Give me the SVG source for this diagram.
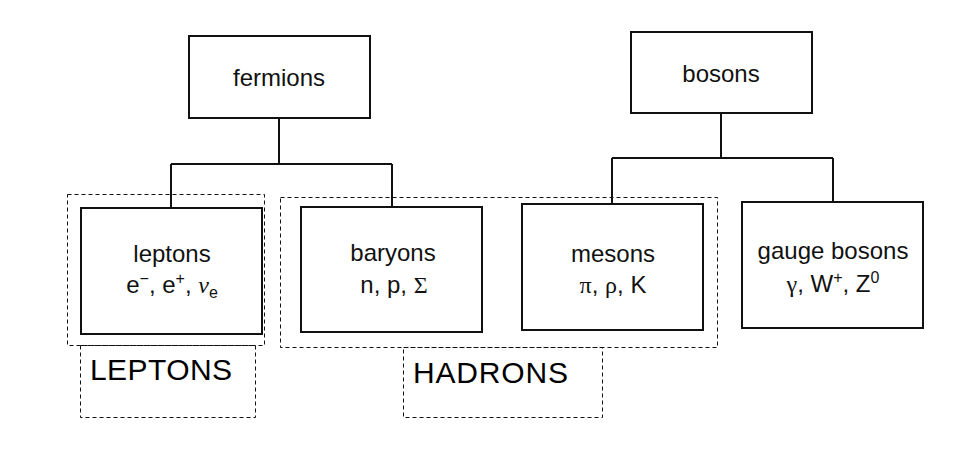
<svg xmlns="http://www.w3.org/2000/svg" width="953" height="473" viewBox="0 0 953 473">
<style>
.box{fill:#fff;stroke:#111;stroke-width:2}
.grp{fill:none;stroke:#111;stroke-width:1;stroke-dasharray:4 3}
.ln{fill:none;stroke:#111;stroke-width:2}
.t{font-family:"Liberation Sans",Arial,sans-serif;font-size:24px;fill:#111;text-anchor:middle}
.g{font-family:"Liberation Serif","Times New Roman",serif}
.s{font-size:16px}
.big{font-family:"Liberation Sans",Arial,sans-serif;font-size:30px;fill:#000}
</style>
<rect width="953" height="473" fill="#fff"/>
<g id="connectors">
<path class="ln" d="M279 118V164M171 164H392M171 164V208M392 164V207"/>
<path class="ln" d="M721 113V158M612 158H833M612 158V204M833 158V202"/>
</g>
<g id="group-leptons">
<rect class="grp" x="67.5" y="194.5" width="197" height="151"/>
<rect class="grp" x="80.5" y="345.5" width="175" height="72"/>
<text class="big" x="90" y="380" textLength="142">LEPTONS</text>
</g>
<g id="group-hadrons">
<rect class="grp" x="280.5" y="197.5" width="437" height="150"/>
<rect class="grp" x="403.5" y="347.5" width="199" height="70"/>
<text class="big" x="413" y="383" textLength="155">HADRONS</text>
</g>
<g id="fermions">
<rect class="box" x="189" y="36" width="181" height="82"/>
<text class="t" x="279" y="86">fermions</text>
</g>
<g id="bosons">
<rect class="box" x="631" y="32" width="181" height="81"/>
<text class="t" x="721" y="82">bosons</text>
</g>
<g id="leptons">
<rect class="box" x="81" y="208" width="181" height="126"/>
<text class="t" x="172" y="262">leptons</text>
<text class="t" x="172" y="293">e<tspan class="s" dy="-9">−</tspan><tspan dy="9">, e</tspan><tspan class="s" dy="-9">+</tspan><tspan dy="9">, </tspan><tspan class="g" font-style="italic">ν</tspan><tspan class="s" dy="5">e</tspan></text>
</g>
<g id="baryons">
<rect class="box" x="301" y="207" width="181" height="125"/>
<text class="t" x="393" y="261">baryons</text>
<text class="t" x="394" y="293">n, p, <tspan class="g">Σ</tspan></text>
</g>
<g id="mesons">
<rect class="box" x="522" y="204" width="181" height="126"/>
<text class="t" x="613" y="262">mesons</text>
<text class="t" x="613" y="293"><tspan class="g">π</tspan>, <tspan class="g">ρ</tspan>, K</text>
</g>
<g id="gauge-bosons">
<rect class="box" x="742" y="202" width="181" height="126"/>
<text class="t" x="833" y="259">gauge bosons</text>
<text class="t" x="833" y="292"><tspan class="g">γ</tspan>, W<tspan class="s" dy="-9">+</tspan><tspan dy="9">, Z</tspan><tspan class="s" dy="-9">0</tspan></text>
</g>
</svg>
